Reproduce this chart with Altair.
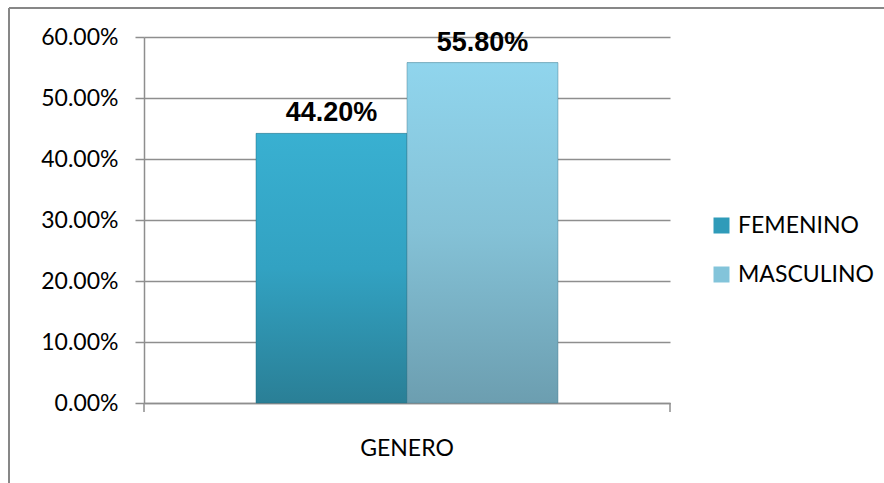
import altair as alt
import pandas as pd

categoria = ["GENERO", "GENERO"]
sexo = ["FEMENINO", "MASCULINO"]
porcentaje = [0.442, 0.558]
etiquetas = ["44.20%", "55.80%"]
y_ticks = [0, 0.1, 0.2, 0.3, 0.4, 0.5, 0.6]
colores_planos = ["#2f9bb9", "#83c4da"]
grad_fem = ["#39b0d1", "#32a2c2", "#2a7f96"]
grad_mas = ["#90d5ed", "#84c1d6", "#6c9eb0"]

df = pd.DataFrame({"categoria": categoria, "sexo": sexo, "valor": porcentaje, "etiqueta": etiquetas})

W, H = 526, 366
GRID = "#8e8e8e"
FONT = "Lato"

x_enc = alt.X(
    "categoria:N",
    title=None,
    scale=alt.Scale(paddingInner=0, paddingOuter=0.371),
    axis=alt.Axis(labelAngle=0, ticks=False, domainColor=GRID, domainWidth=1.5,
                  labelFont=FONT, labelFontSize=23, labelColor="black", labelPadding=34),
)
xoff = alt.XOffset("sexo:N", scale=alt.Scale(domain=sexo, paddingInner=0, paddingOuter=0))
y_enc = alt.Y(
    "valor:Q",
    title=None,
    scale=alt.Scale(domain=[0, 0.6], nice=False),
    axis=alt.Axis(format=".2%", values=y_ticks, domainColor=GRID, domainWidth=1.5,
                  tickColor=GRID, tickSize=9, tickWidth=1.5, grid=True, gridColor=GRID,
                  gridWidth=1.5, labelFont=FONT, labelFontSize=23, labelColor="black",
                  labelPadding=17),
)

base = alt.Chart(df)

flat = base.mark_bar().encode(
    x=x_enc, xOffset=xoff, y=y_enc,
    color=alt.Color("sexo:N", scale=alt.Scale(domain=sexo, range=colores_planos),
                    legend=alt.Legend(orient="none", legendX=566, legendY=177, title=None,
                                      symbolType="square", symbolSize=256, labelFontSize=23,
                                      labelFont=FONT, labelColor="black", rowPadding=25,
                                      labelOffset=5, padding=0, symbolStrokeWidth=0)),
)


def grad(colors):
    return alt.Gradient(
        gradient="linear", x1=0, x2=0, y1=0, y2=1,
        stops=[alt.GradientStop(color=colors[0], offset=0),
               alt.GradientStop(color=colors[1], offset=0.5),
               alt.GradientStop(color=colors[2], offset=1)],
    )


fem = base.transform_filter(alt.datum.sexo == "FEMENINO").mark_bar(
    fill=grad(grad_fem), stroke="#1f6c80", strokeWidth=0.8, strokeOpacity=0.6
).encode(x=x_enc, xOffset=xoff, y=y_enc)
mas = base.transform_filter(alt.datum.sexo == "MASCULINO").mark_bar(
    fill=grad(grad_mas), stroke="#4d7f90", strokeWidth=0.8, strokeOpacity=0.6
).encode(x=x_enc, xOffset=xoff, y=y_enc)

labels = base.mark_text(font="Liberation Sans", fontWeight="bold", fontSize=27,
                        baseline="alphabetic", dy=-12, color="black").encode(
    x=x_enc, xOffset=xoff, y=y_enc, text="etiqueta:N"
)

one = alt.Data(values=[{}])
deco_style = dict(color="#878787", strokeWidth=2)
top_line = alt.Chart(one).mark_rule(**deco_style).encode(
    x=alt.value(-135), x2=alt.value(740), y=alt.value(-29))
left_line = alt.Chart(one).mark_rule(**deco_style).encode(
    x=alt.value(-135), y=alt.value(-29), y2=alt.value(446))
tick_l = alt.Chart(one).mark_rule(color=GRID, strokeWidth=1.5).encode(
    x=alt.value(0), y=alt.value(366), y2=alt.value(375))
tick_r = alt.Chart(one).mark_rule(color=GRID, strokeWidth=1.5).encode(
    x=alt.value(526), y=alt.value(366), y2=alt.value(375))

chart = alt.layer(flat, fem, mas, labels, top_line, left_line, tick_l, tick_r).properties(
    width=W, height=H,
    autosize=alt.AutoSizeParams(type="none"),
    padding={"left": 144, "top": 37, "right": 214, "bottom": 80},
    background="white",
).configure_view(stroke=None)

chart.save("out.html", embed_options={"renderer": "svg", "actions": False})
